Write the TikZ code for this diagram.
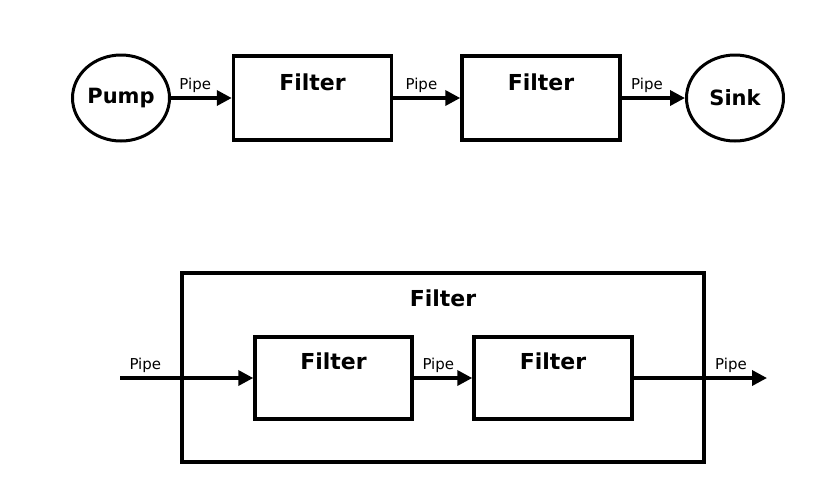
\documentclass[tikz,border=0pt]{standalone}
\usepackage{fontspec}
\setmainfont{DejaVu Sans}
\usetikzlibrary{shapes.geometric,arrows.meta,calc}

\begin{document}
\begin{tikzpicture}[x=1pt,y=-1pt,
    filterbox/.style={draw, line width=3.5pt, minimum width=158pt, minimum height=84pt, inner sep=0pt},
    endpoint/.style={draw, ellipse, line width=3pt, minimum width=97pt, minimum height=86pt, inner sep=0pt, font=\fontsize{21}{21}\selectfont\bfseries},
    boxtitle/.style={font=\fontsize{22}{22}\selectfont\bfseries},
    pipe/.style={line width=3.5pt, -{Triangle[length=15pt,width=15pt]}},
    pipelabel/.style={above, inner sep=0pt, yshift=4pt, font=\fontsize{15}{15}\selectfont}]
            \useasboundingbox (0,0) rectangle (830,483);
            % Top row: pump, two filters, sink
            \node[endpoint] (pump) at (121,98) {Pump};
            \node[filterbox] (f1) at (312.5,98) {};
            \node[filterbox] (f2) at (541,98) {};
            \node[endpoint] (sink) at (735,98) {Sink};
            \foreach \b in {f1, f2} {
                \node[boxtitle] at ($(\b.north)+(0,28)$) {Filter};
            }
            \draw[pipe] (pump) -- node[pipelabel, pos=0.4] {Pipe} (f1);
            \draw[pipe] (f1) -- node[pipelabel, pos=0.42] {Pipe} (f2);
            \draw[pipe] (f2) -- node[pipelabel, pos=0.4] {Pipe} (sink);
            % Bottom row: composite filter
            \node[filterbox, minimum width=522pt, minimum height=189pt] (outer) at (443,367.5) {};
            \node[boxtitle] at ($(outer.north)+(0,27)$) {Filter};
            \node[filterbox, minimum width=157pt, minimum height=82pt] (f3) at (333.5,378) {};
            \node[filterbox, minimum width=158pt, minimum height=82pt] (f4) at (553,378) {};
            \foreach \b in {f3, f4} {
                \node[boxtitle] at ($(\b.north)+(0,26)$) {Filter};
            }
            \coordinate (in) at (120,378);
            \coordinate (out) at (767,378);
            \draw[pipe] (in) -- node[pipelabel, pos=0.19] {Pipe} (f3);
            \draw[pipe] (f3) -- node[pipelabel, pos=0.42] {Pipe} (f4);
            \draw[pipe] (f4) -- node[pipelabel, pos=0.73] {Pipe} (out);
\end{tikzpicture}
\end{document}
